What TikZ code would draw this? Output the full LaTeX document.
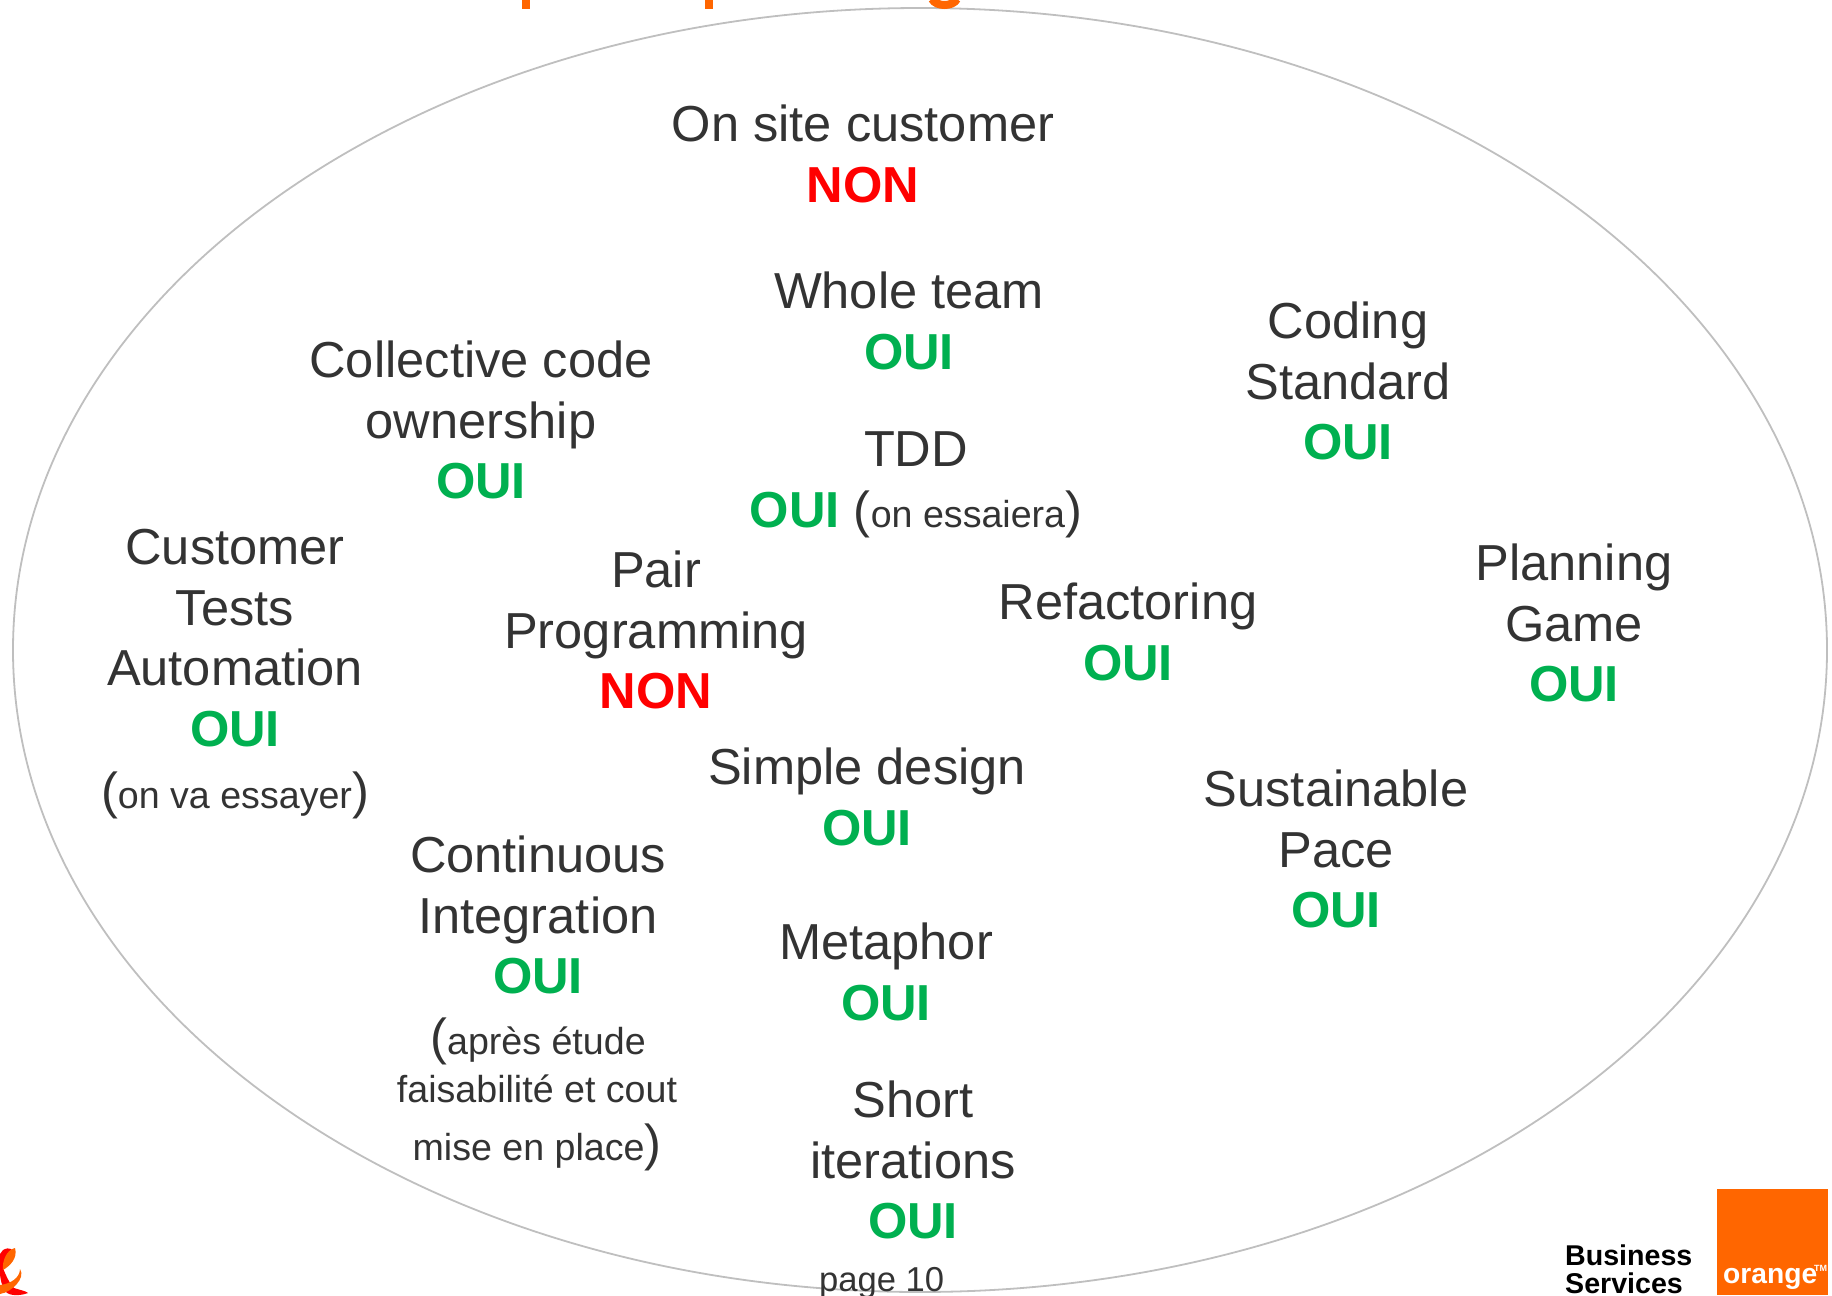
\documentclass[tikz,border=0pt]{standalone}
\usepackage{fontspec}
\setmainfont{Liberation Sans}
\definecolor{txtgrey}{HTML}{333333}
\definecolor{ouigreen}{HTML}{00B050}
\definecolor{logoorange}{HTML}{FF6600}
\definecolor{ringgrey}{HTML}{BFBFBF}
\newcommand{\oui}{{\color{ouigreen}\bfseries OUI}}
\newcommand{\non}{{\color{red}\bfseries NON}}
\newcommand{\petit}[1]{{\fontsize{37.6}{48}\selectfont #1}}
\begin{document}
\begin{tikzpicture}[x=1pt,y=-1pt,
    main node/.style={align=center,inner sep=0pt,text=txtgrey,font=\fontsize{50.6}{60.7}\selectfont},
    logo node/.style={inner sep=0pt,anchor=base west}]
    \useasboundingbox (0,0) rectangle (1832,1296);

    \draw[ringgrey,line width=1.8pt] (920,650) ellipse [x radius=907,y radius=642];

    % title cut off by the page
    \fill[logoorange] (522,0) rectangle (530,8.5);
    \fill[logoorange] (705,0) rectangle (713,8.5);
    \draw[logoorange,line width=8pt] (932,-1) .. controls (936,7) and (953,7) .. (957,-1);

    \node[main node] at (863,154) (onsite) {On site customer\\\non};
    \node[main node] at (909,321) (whole) {Whole team\\\oui};
    \node[main node] at (1348,381) (coding) {Coding\\Standard\\\oui};
    \node[main node] at (481,420) (collective) {Collective code\\ownership\\\oui};
    \node[main node] at (916,449) (tdd) {TDD};
    \node[main node] at (916,514) (tddoui) {\oui{} (\petit{on essaiera})};
    \node[main node] at (656,630) (pair) {Pair\\Programming\\\non};
    \node[main node] at (1128,632) (refactoring) {Refactoring\\\oui};
    \node[main node] at (1574,623) (planning) {Planning\\Game\\\oui};
    \node[main node] at (235,638) (customer) {Customer\\Tests\\Automation\\\oui};
    \node[main node] at (235,795) (customernote) {(\petit{on va essayer})};
    \node[main node] at (867,797) (simple) {Simple design\\\oui};
    \node[main node] at (1336,849) (sustainable) {Sustainable\\Pace\\\oui};
    \node[main node] at (538,915) (continuous) {Continuous\\Integration\\\oui};
    \node[main node] at (538,1041) (contnotea) {(\petit{après étude}};
    \node[main node] at (537,1089) (contnoteb) {\petit{faisabilité et cout}};
    \node[main node] at (537,1147) (contnotec) {\petit{mise en place})};
    \node[main node] at (886,972) (metaphor) {Metaphor\\\oui};
    \node[main node] at (913,1160) (short) {Short\\iterations\\\oui};
    \node[logo node,text=txtgrey,font=\fontsize{34.6}{40}\selectfont] at (819,1291) (page) {page 10};

    % logos
    \fill[red] (3,1250) .. controls (10,1246) and (14,1250) .. (13,1254) .. controls (8,1256) and (3,1262) .. (3,1268)
        .. controls (6,1276) and (10,1284) .. (14,1288) .. controls (20,1290) and (26,1291) .. (28,1293)
        .. controls (20,1296) and (10,1296) .. (6,1292) .. controls (2,1286) and (0,1280) .. (0,1272) -- (0,1254) -- cycle;
    \fill[logoorange] (15,1248) .. controls (18,1258) and (10,1266) .. (3,1270) .. controls (2,1262) and (6,1250) .. (15,1248) -- cycle;
    \fill[logoorange] (20,1269) .. controls (26,1278) and (12,1292) .. (0,1294) -- (0,1285) .. controls (10,1284) and (20,1278) .. (20,1269) -- cycle;

    \fill[logoorange] (1717,1189) rectangle (1828,1295);
    \node[logo node,text=white,font=\bfseries\fontsize{28.2}{28}\selectfont] at (1723,1283) (orange) {orange};
    \node[logo node,text=white,font=\bfseries\fontsize{9}{9}\selectfont] at (1814,1271) (tm) {TM};
    \node[logo node,font=\bfseries\fontsize{28.6}{28}\selectfont] at (1565,1265) (business) {Business};
    \node[logo node,font=\bfseries\fontsize{28.6}{28}\selectfont] at (1565,1293) (services) {Services};
\end{tikzpicture}
\end{document}
